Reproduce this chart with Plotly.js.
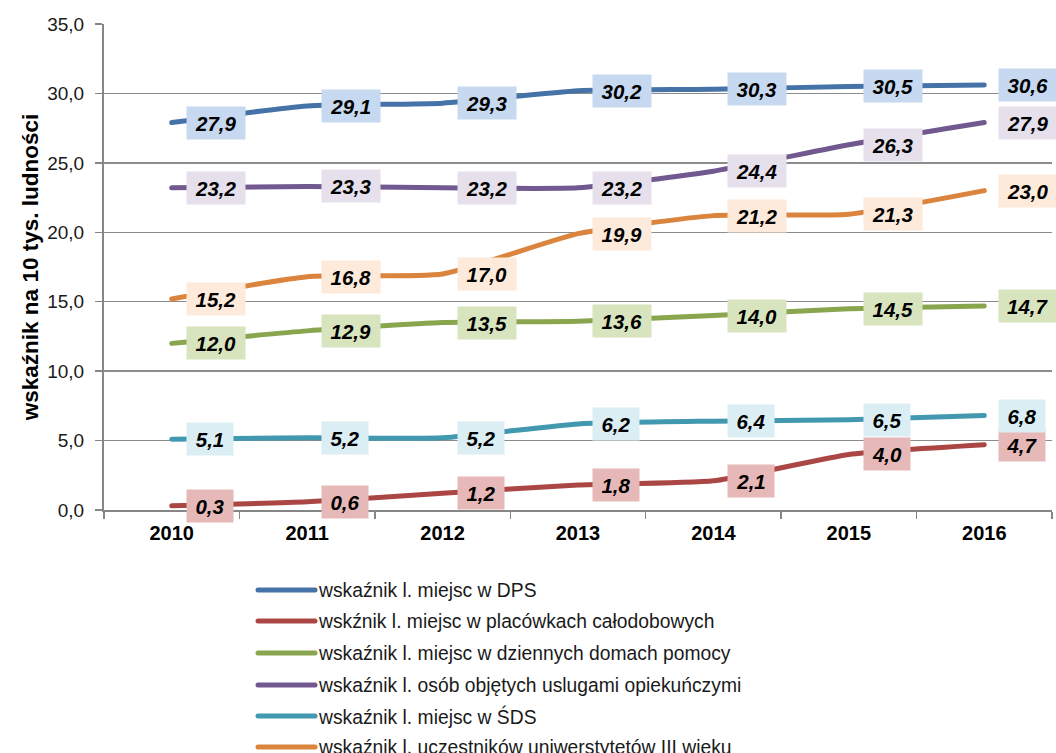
<!DOCTYPE html>
<html>
<head>
<meta charset="utf-8">
<script src="https://cdn.plot.ly/plotly-3.0.1.min.js"></script>
<style>
  html, body { margin: 0; padding: 0; background: #fff; }
  #chart { width: 1056px; height: 753px; }
  .scatterlayer .js-line { stroke-linecap: round; stroke-linejoin: round; }
  .shapelayer path { stroke-linecap: round; }
</style>
</head>
<body>
<div id="chart"></div>
<script>
// ---- data ----
const years = ['2010', '2011', '2012', '2013', '2014', '2015', '2016'];
const seriesNames = [
  'wskaźnik l. miejsc w DPS',
  'wskźnik l. miejsc w placówkach całodobowych',
  'wskaźnik l. miejsc w dziennych domach pomocy',
  'wskaźnik l. osób objętych uslugami opiekuńczymi',
  'wskaźnik l. miejsc w ŚDS',
  'wskaźnik l. uczestników uniwerstytetów III wieku'
];
const dps        = [27.9, 29.1, 29.3, 30.2, 30.3, 30.5, 30.6];
const calodobowe = [0.3, 0.6, 1.2, 1.8, 2.1, 4.0, 4.7];
const dzienne    = [12.0, 12.9, 13.5, 13.6, 14.0, 14.5, 14.7];
const opiekuncze = [23.2, 23.3, 23.2, 23.2, 24.4, 26.3, 27.9];
const sds        = [5.1, 5.2, 5.2, 6.2, 6.4, 6.5, 6.8];
const utw        = [15.2, 16.8, 17.0, 19.9, 21.2, 21.3, 23.0];
const allSeries = [dps, calodobowe, dzienne, opiekuncze, sds, utw];

// ---- styles ----
const lineColors = ['#4572A7', '#AA4643', '#89A54E', '#71588F', '#4198AF', '#DB843D'];
const boxColors  = ['#C6D9F0', '#E6B9B8', '#D7E4BD', '#E5E0EC', '#DBEEF4', '#FDEADA'];
const FONT = 'Liberation Sans, Arial, sans-serif';

const W = 1056, H = 753;
const M = {l: 104, r: 4, t: 24, b: 243};
const plotW = W - M.l - M.r, plotH = H - M.t - M.b;

const traces = allSeries.map((vals, i) => ({
  type: 'scatter',
  mode: 'lines',
  x: years,
  y: vals,
  name: seriesNames[i],
  line: {color: lineColors[i], width: 5, shape: 'spline', smoothing: 0.5},
  hoverinfo: 'skip',
  showlegend: false
}));

function fmt(v) { return v.toFixed(1).replace('.', ','); }

const annotations = [];
allSeries.forEach((vals, i) => {
  vals.forEach((v, j) => {
    const t = fmt(v);
    const digits = t.replace(',', '').length;
    annotations.push({
      xref: 'x', yref: 'y', x: j, y: v,   // category index of years[j]
      text: '<b><i>' + t + '</i></b>',
      showarrow: false,
      xanchor: 'left', yanchor: 'middle', xshift: 14,
      bgcolor: boxColors[i],
      borderpad: 3,
      width: 11.5 * digits + 17,
      height: 26,
      font: {family: FONT, size: 20.5, color: '#000'}
    });
  });
});

// custom legend
const legendRows = [590, 621, 653, 685, 716, 747];
const shapes = [];
seriesNames.forEach((name, i) => {
  const yp = (H - M.b - legendRows[i]) / plotH;
  shapes.push({
    type: 'line', xref: 'paper', yref: 'paper',
    x0: (258 - M.l) / plotW, x1: (315 - M.l) / plotW, y0: yp, y1: yp,
    line: {color: lineColors[i], width: 5}
  });
  annotations.push({
    xref: 'paper', yref: 'paper',
    x: (316 - M.l) / plotW, y: yp,
    xanchor: 'left', yanchor: 'middle',
    text: name, showarrow: false,
    font: {family: FONT, size: 19.3, color: '#1a1a1a'}
  });
});

const layout = {
  width: W, height: H,
  margin: M,
  paper_bgcolor: '#fff', plot_bgcolor: '#fff',
  separators: ', ',
  showlegend: false,
  font: {family: FONT, color: '#1a1a1a'},
  xaxis: {
    type: 'category',
    categoryorder: 'array',
    categoryarray: years,
    range: [-0.5, years.length - 0.5],
    tickson: 'boundaries',
    ticks: 'outside', ticklen: 7, tickwidth: 1.5, tickcolor: '#868686',
    showline: true, linecolor: '#868686', linewidth: 2,
    showgrid: false, zeroline: false,
    tickangle: 0,
    tickfont: {family: FONT, size: 20, color: '#000', weight: 'bold'},
    ticklabelstandoff: 4,
    fixedrange: true
  },
  yaxis: {
    range: [0, 35], dtick: 5, tick0: 0,
    tickformat: '.1f',
    ticks: 'outside', ticklen: 7, tickwidth: 1.5, tickcolor: '#868686',
    showline: true, linecolor: '#868686', linewidth: 2,
    showgrid: true, gridcolor: '#8c8c8c', gridwidth: 1.5,
    zeroline: false,
    tickfont: {family: FONT, size: 19, color: '#1a1a1a'},
    ticklabelstandoff: 7,
    title: {text: 'wskaźnik na 10 tys. ludności', standoff: 2,
            font: {family: FONT, size: 22.5, color: '#000', weight: 'bold'}},
    fixedrange: true
  },
  shapes: shapes,
  annotations: annotations
};

Plotly.newPlot('chart', traces, layout, {displayModeBar: false, staticPlot: true});
</script>
</body>
</html>
